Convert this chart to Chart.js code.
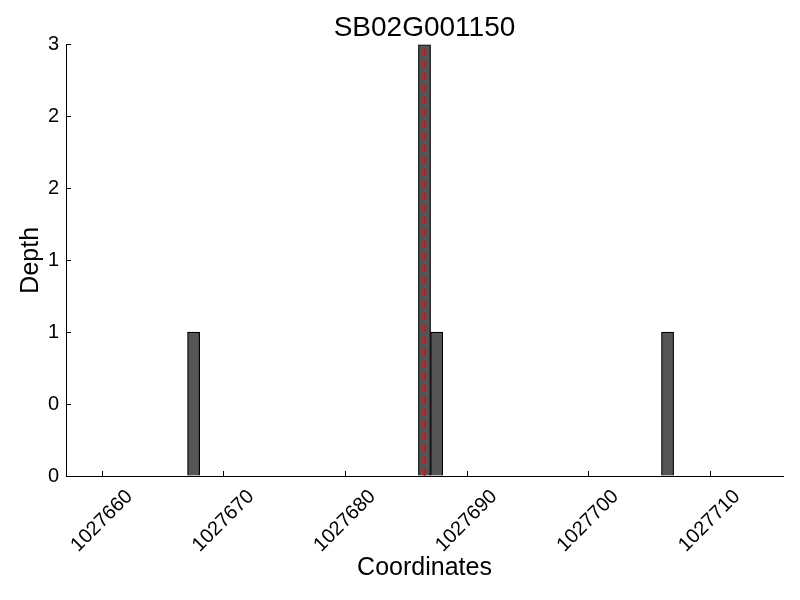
<!DOCTYPE html>
<html>
<head>
<meta charset="utf-8">
<script src="https://cdn.jsdelivr.net/npm/chart.js@4.4.1/dist/chart.umd.min.js"></script>
<style>
  html, body { margin: 0; padding: 0; background: #fff; }
  #wrap { width: 800px; height: 600px; }
</style>
</head>
<body>
<div id="wrap"><canvas id="depthChart" width="800" height="600"></canvas></div>
<script>
// Depth per coordinate bin (each bin is 1 bp wide, starts at the given coordinate)
const binStarts = [1027667, 1027686, 1027687, 1027706];
const depths    = [1, 3, 1, 1];
const binWidth  = 1;

// red dashed marker
const markerPos = 1027686.5;

// axes
const xTicks = [1027660, 1027670, 1027680, 1027690, 1027700, 1027710];
const yTicks = [0, 0.5, 1, 1.5, 2, 2.5, 3];
const yTickLabels = ["0", "0", "1", "1", "2", "2", "3"];
const xMin = 1027657, xMax = 1027716;
const yMin = 0, yMax = 3;

const FONT = "'Liberation Sans', Arial, Helvetica, sans-serif";

const barData = binStarts.map((s, i) => ({ x: s + binWidth / 2, y: depths[i] }));
const markerData = [{ x: markerPos, y: yMin }, { x: markerPos, y: yMax }];

new Chart(document.getElementById("depthChart"), {
    type: "bar",
    data: {
        datasets: [
            {
                type: "line",
                data: markerData,
                borderColor: "#ff0000",
                borderWidth: 2,
                borderDash: [7, 5],
                pointRadius: 0,
                order: 0
            },
            {
                data: barData,
                backgroundColor: "#555555",
                borderColor: "#000000",
                borderWidth: 1.2,
                barPercentage: 1,
                categoryPercentage: 1,
                order: 1
            }
        ]
    },
    options: {
        responsive: false,
        animation: false,
        layout: { padding: { left: 0, right: 17, top: 0, bottom: 0 } },
        plugins: {
            legend: { display: false },
            tooltip: { enabled: false },
            title: {
                display: true,
                fullSize: false,   // centre over the plot area, not the canvas
                text: "SB02G001150",
                color: "#000",
                font: { family: FONT, size: 28, weight: "normal" },
                padding: { top: 11, bottom: 0 }
            }
        },
        scales: {
            x: {
                type: "linear",
                min: xMin,
                max: xMax,
                offset: false,
                afterBuildTicks: s => { s.ticks = xTicks.map(v => ({ value: v })); },
                afterFit: s => { s.height = 124; },
                grid: { drawOnChartArea: false, drawTicks: true, tickLength: -5, color: "#000", offset: false },
                border: { display: true, color: "#000", width: 1 },
                ticks: {
                    minRotation: 45,
                    maxRotation: 45,
                    autoSkip: false,
                    padding: 14,
                    labelOffset: 27,
                    color: "#000",
                    font: { family: FONT, size: 20 },
                    callback: v => String(v)
                },
                title: {
                    display: true,
                    text: "Coordinates",
                    color: "#000",
                    font: { family: FONT, size: 25 },
                    padding: { top: 0, bottom: 17 }
                }
            },
            y: {
                min: yMin,
                max: yMax,
                afterBuildTicks: s => { s.ticks = yTicks.map(v => ({ value: v })); },
                afterFit: s => { s.width = 66; },
                grid: { drawOnChartArea: false, drawTicks: true, tickLength: -5, color: "#000" },
                border: { display: true, color: "#000", width: 1 },
                ticks: {
                    padding: 12,
                    color: "#000",
                    font: { family: FONT, size: 20 },
                    callback: v => yTickLabels[yTicks.indexOf(v)] ?? ""
                },
                title: {
                    display: true,
                    text: "Depth",
                    color: "#000",
                    font: { family: FONT, size: 25 },
                    padding: { top: 16, bottom: 0 }
                }
            }
        }
    }
});
</script>
</body>
</html>
